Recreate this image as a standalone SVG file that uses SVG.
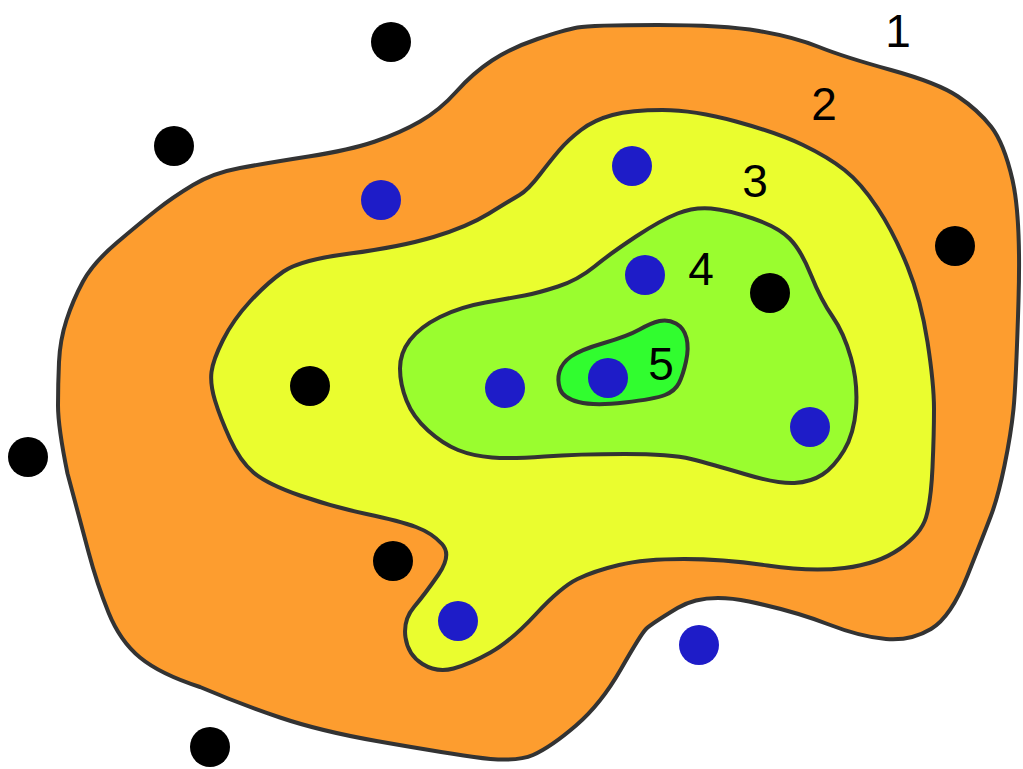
<svg xmlns="http://www.w3.org/2000/svg" width="1023" height="769" viewBox="0 0 1023 769">
<style>
.c{stroke:#333;stroke-width:4;stroke-linejoin:round}
.l1{fill:#FD9D2F}.l2{fill:#EAFD2F}.l3{fill:#9AFD2F}.l4{fill:#31FD2F}
.b{fill:#000}.u{fill:#1E1CC8}
.t{font-family:"Liberation Sans",Arial,sans-serif;font-size:46px;fill:#000;text-anchor:middle}
</style>
<rect width="1023" height="769" fill="#fff"/>
<g id="zone2">
<path class="c l1" d="M193 185 Q213 173 240 168 Q267 163 308.5 156.5 Q350 150 375 141.5 Q400 133 420 121.5 Q440 110 456.5 91.5 Q473 73 492 60.5 Q511 48 537.5 39 Q564 30 577.5 27.5 Q591 25 657.5 25 Q724 25 759 31 Q794 37 819 47 Q844 57 891 70 Q938 83 958 96.5 Q978 110 991 126.5 Q1004 143 1012.5 180 Q1021 217 1018.5 300.5 Q1016 384 1013.5 409 Q1011 434 1004.5 465.5 Q998 497 991 515.5 Q984 534 967.5 575.5 Q951 617 931 629 Q911 641 886 639 Q861 637 827.5 624 Q794 611 749 601.5 Q704 592 677.5 608 Q651 624 646 629 Q641 634 621 669 Q601 704 576 725.5 Q551 747 533 755 Q515 763 474 757 Q433 751 376.5 741 Q320 731 280 717.5 Q240 704 200 687 Q160 674 140 657.5 Q120 641 108.5 612.5 Q97 584 88.5 552 Q80 520 67.5 473.5 Q58 427 58 405.5 Q58 384 59 362 Q60 340 66.5 320 Q73 300 83 281.5 Q93 263 116.5 243 Q140 223 156.5 210 Q173 197 193 185 Z"/>
</g>
<g id="zone3">
<path class="c l2" d="M489 213.5 Q511 200 519.5 195 Q528 190 539.5 175 Q551 160 559.5 150 Q568 140 581 130 Q594 120 612.5 115 Q631 110 662.5 110 Q694 110 736 121.5 Q778 133 803 145 Q828 157 844.5 170 Q861 183 877.5 208 Q894 233 907.5 266.5 Q921 300 927.5 342 Q934 384 934 409 Q934 434 932.5 467.5 Q931 501 926 517.5 Q921 534 899.5 549 Q878 564 844.5 568 Q811 572 767.5 565.5 Q724 559 684 559 Q644 559 619 565 Q594 571 577.5 579 Q561 587 536 614 Q511 641 490.5 652.5 Q470 664 453.5 668.5 Q437 673 422.5 664 Q408 655 405.5 637.5 Q403 620 414 607 Q425 594 438.5 574.5 Q452 555 442 544 Q432 533 416 527 Q400 521 366.5 514 Q333 507 300 495.5 Q267 484 253.5 472.5 Q240 461 230 439 Q220 417 215 400.5 Q210 384 211.5 372 Q213 360 223 340 Q233 320 250 301.5 Q267 283 283.5 271.5 Q300 260 350 253.5 Q400 247 433.5 237 Q467 227 489 213.5 Z"/>
</g>
<g id="zone4">
<path class="c l3" d="M485.5 302.5 Q511 298 524.5 295.5 Q538 293 558 286.5 Q578 280 594.5 266.5 Q611 253 636 236.5 Q661 220 677.5 213.5 Q694 207 711 208.5 Q728 210 753 218.5 Q778 227 789.5 238.5 Q801 250 811 275 Q821 300 832.5 316.5 Q844 333 851 358 Q858 383 856 408.5 Q854 434 844 450.5 Q834 467 822.5 474.5 Q811 482 794.5 483 Q778 484 744.5 474 Q711 464 691 459 Q671 454 624.5 454 Q578 454 544.5 456.5 Q511 459 492 457.5 Q473 456 458 450 Q443 444 428 430.5 Q413 417 406.5 400.5 Q400 384 400 368.5 Q400 353 410 340 Q420 327 440 317 Q460 307 485.5 302.5 Z"/>
</g>
<g id="zone5">
<path class="c l4" d="M571 356.5 Q580 350 604 343 Q628 336 639.5 329.5 Q651 323 659.5 321 Q668 319 676 323.5 Q684 328 686.5 338 Q689 348 686 361.5 Q683 375 679 383 Q675 391 665 395 Q655 399 624.5 402.5 Q594 406 578.5 402 Q563 398 560 389 Q557 380 559.5 371.5 Q562 363 571 356.5 Z"/>
</g>
<g id="points">
<circle class="b" cx="391" cy="42" r="20"/>
<circle class="b" cx="174" cy="146" r="20"/>
<circle class="b" cx="955" cy="246" r="20"/>
<circle class="b" cx="770" cy="293" r="20"/>
<circle class="b" cx="310" cy="386" r="20"/>
<circle class="b" cx="28" cy="457" r="20"/>
<circle class="b" cx="393" cy="561" r="20"/>
<circle class="b" cx="210" cy="747" r="20"/>
<circle class="u" cx="381" cy="200" r="20"/>
<circle class="u" cx="632" cy="166" r="20"/>
<circle class="u" cx="645" cy="275" r="20"/>
<circle class="u" cx="505" cy="388" r="20"/>
<circle class="u" cx="608" cy="378" r="20"/>
<circle class="u" cx="810" cy="427" r="20"/>
<circle class="u" cx="458" cy="621" r="20"/>
<circle class="u" cx="699" cy="645" r="20"/>
</g>
<g id="labels">
<text class="t" x="898" y="47">1</text>
<text class="t" x="824" y="120">2</text>
<text class="t" x="755" y="197">3</text>
<text class="t" x="701" y="285">4</text>
<text class="t" x="661" y="380">5</text>
</g>
</svg>
